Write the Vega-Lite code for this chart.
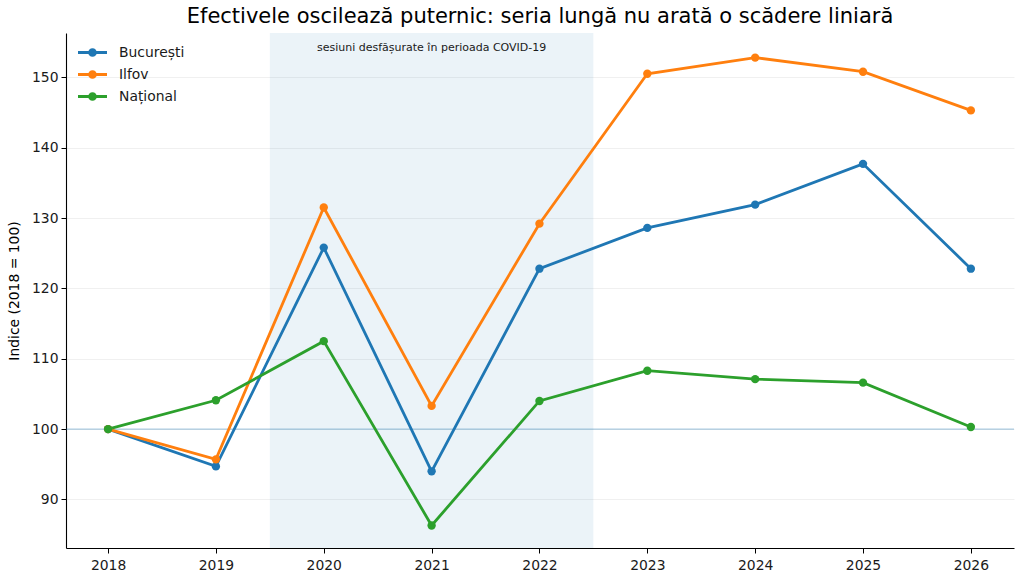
{
  "$schema": "https://vega.github.io/schema/vega-lite/v6.json",
  "autosize": {"type": "none"},
  "width": 948,
  "height": 515,
  "padding": {"left": 66, "top": 33, "right": 10, "bottom": 34},
  "title": {
    "text": "Efectivele oscilează puternic: seria lungă nu arată o scădere liniară",
    "fontSize": 21,
    "fontWeight": "normal",
    "font": "DejaVu Sans",
    "color": "#000000",
    "offset": 6
  },
  "datasets": {
    "series": [
      {"year": 2018, "region": "București", "value": 100},
      {"year": 2019, "region": "București", "value": 94.7},
      {"year": 2020, "region": "București", "value": 125.8},
      {"year": 2021, "region": "București", "value": 94.0},
      {"year": 2022, "region": "București", "value": 122.8},
      {"year": 2023, "region": "București", "value": 128.6},
      {"year": 2024, "region": "București", "value": 131.9},
      {"year": 2025, "region": "București", "value": 137.7},
      {"year": 2026, "region": "București", "value": 122.8},
      {"year": 2018, "region": "Ilfov", "value": 100},
      {"year": 2019, "region": "Ilfov", "value": 95.7},
      {"year": 2020, "region": "Ilfov", "value": 131.5},
      {"year": 2021, "region": "Ilfov", "value": 103.3},
      {"year": 2022, "region": "Ilfov", "value": 129.2},
      {"year": 2023, "region": "Ilfov", "value": 150.5},
      {"year": 2024, "region": "Ilfov", "value": 152.8},
      {"year": 2025, "region": "Ilfov", "value": 150.8},
      {"year": 2026, "region": "Ilfov", "value": 145.3},
      {"year": 2018, "region": "Național", "value": 100},
      {"year": 2019, "region": "Național", "value": 104.1},
      {"year": 2020, "region": "Național", "value": 112.5},
      {"year": 2021, "region": "Național", "value": 86.3},
      {"year": 2022, "region": "Național", "value": 104.0},
      {"year": 2023, "region": "Național", "value": 108.3},
      {"year": 2024, "region": "Național", "value": 107.1},
      {"year": 2025, "region": "Național", "value": 106.6},
      {"year": 2026, "region": "Național", "value": 100.3}
    ],
    "covid": [
      {"start": 2019.5, "end": 2022.5, "mid": 2021, "top": 154.2, "note": "sesiuni desfășurate în perioada COVID-19"}
    ]
  },
  "layer": [
    {
      "data": {"name": "covid"},
      "mark": {"type": "rect", "color": "#1f77b4", "opacity": 0.09},
      "encoding": {
        "x": {"field": "start", "type": "quantitative", "scale": {"domain": [2017.61, 2026.4]}},
        "x2": {"field": "end"}
      }
    },
    {
      "data": {"values": [{"ref": 100}]},
      "mark": {"type": "rule", "color": "#1f77b4", "opacity": 0.45, "strokeWidth": 1},
      "encoding": {"y": {"field": "ref", "type": "quantitative"}}
    },
    {
      "data": {"name": "covid"},
      "mark": {"type": "text", "font": "DejaVu Sans", "fontSize": 11, "color": "#1a1a1a", "baseline": "middle"},
      "encoding": {
        "x": {"field": "mid", "type": "quantitative"},
        "y": {"field": "top", "type": "quantitative"},
        "text": {"field": "note"}
      }
    },
    {
      "data": {"name": "series"},
      "mark": {"type": "line", "strokeWidth": 2.8, "point": {"filled": true, "size": 70, "opacity": 1}},
      "encoding": {
        "x": {
          "field": "year",
          "type": "quantitative",
          "scale": {"domain": [2017.61, 2026.4], "nice": false, "zero": false},
          "axis": {"values": [2018, 2019, 2020, 2021, 2022, 2023, 2024, 2025, 2026], "format": "d", "title": null, "grid": false}
        },
        "y": {
          "field": "value",
          "type": "quantitative",
          "scale": {"domain": [83.1, 156.3], "nice": false, "zero": false},
          "axis": {"values": [90, 100, 110, 120, 130, 140, 150], "title": "Indice (2018 = 100)", "grid": true, "titlePadding": 10}
        },
        "color": {
          "field": "region",
          "type": "nominal",
          "scale": {"domain": ["București", "Ilfov", "Național"], "range": ["#1f77b4", "#ff7f0e", "#2ca02c"]},
          "legend": {
            "title": null,
            "orient": "none",
            "legendX": 12,
            "legendY": 5,
            "symbolType": "M-1,-0.1L1,-0.1L1,0.1L-1,0.1Z M0.3,0A0.3,0.3 0 1,1 -0.3,0A0.3,0.3 0 1,1 0.3,0Z",
            "symbolSize": 841,
            "symbolStrokeWidth": 0,
            "labelFontSize": 13.9,
            "labelFont": "DejaVu Sans",
            "labelColor": "#1a1a1a",
            "labelOffset": 12,
            "rowPadding": -7,
            "encode": {"symbols": {"update": {"fill": {"scale": "color", "field": "value"}, "fillOpacity": {"value": 1}}}}
          }
        }
      }
    }
  ],
  "config": {
    "view": {"stroke": null},
    "font": "DejaVu Sans",
    "axis": {
      "domainColor": "#000000",
      "domainWidth": 1.1,
      "tickColor": "#000000",
      "tickSize": 5,
      "labelFontSize": 13.9,
      "labelColor": "#1a1a1a",
      "labelFont": "DejaVu Sans",
      "titleFont": "DejaVu Sans",
      "titleFontSize": 13.9,
      "titleFontWeight": "normal",
      "titleColor": "#000000",
      "gridColor": "#f0f0f0",
      "gridWidth": 1,
      "labelPadding": 3
    },
    "axisX": {"labelPadding": 5}
  }
}
